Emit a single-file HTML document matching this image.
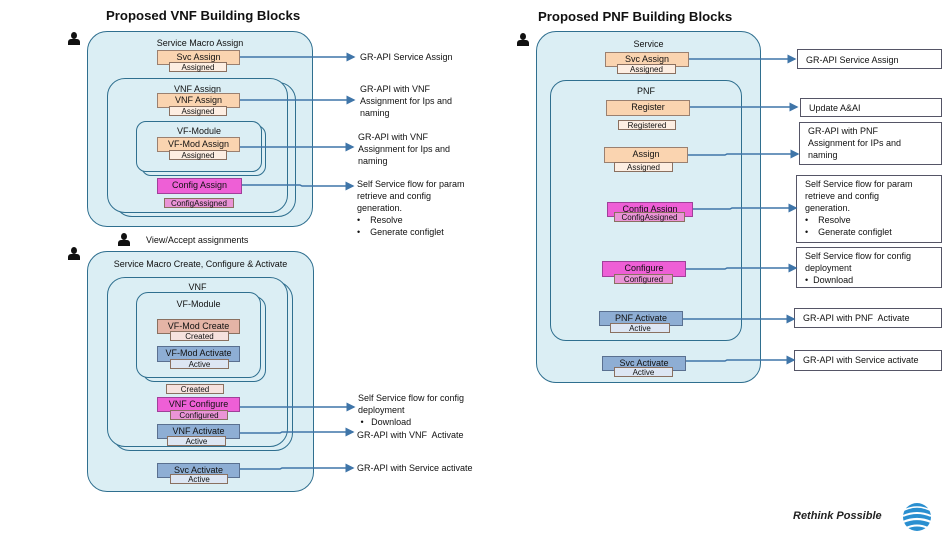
<!DOCTYPE html>
<html><head><meta charset="utf-8"><style>
*{margin:0;padding:0;box-sizing:border-box}
body{width:950px;height:540px;background:#fff;position:relative;overflow:hidden;font-family:"Liberation Sans",sans-serif;color:#111}
.a{position:absolute}
.r{position:absolute;border:1px solid #2f6f8f;background:#dbeef4}
.lb{position:absolute;font-size:9px;text-align:center;white-space:nowrap}
.b{position:absolute;font-size:9px;text-align:center;white-space:nowrap;border:1px solid #8a7060;line-height:13px}
.pe{background:#fad4b0;border-color:#9a8070}
.pes{background:#fdeee2}
.mg{background:#ee5fd6;border-color:#a0409a}
.mgs{background:#ea94d6}
.bl{background:#8eaed4;border-color:#5a7090}
.bls{background:#dde6f3}
.sal{background:#e4b4a6}
.sals{background:#f6e2de}
.s{line-height:9px;font-size:8px}
.t{position:absolute;font-size:9px;line-height:12px;white-space:nowrap}
.bx{position:absolute;border:1px solid #556;background:#fff;font-size:9px;line-height:12px;padding:2px 8px;white-space:nowrap}
.h{position:absolute;font-weight:bold;font-size:13.2px;font-family:"Liberation Sans",sans-serif}
.p{position:absolute;width:12px;height:14px}
.p:before{content:"";position:absolute;left:3px;top:0;width:6px;height:7px;border-radius:50%;background:#111}
.p:after{content:"";position:absolute;left:0;top:7px;width:12px;height:6px;background:#111;border-radius:3px 3px 0 0}
</style></head><body>
<div class="h" style="left:106px;top:8px">Proposed VNF Building Blocks</div>
<div class="h" style="left:538px;top:9px">Proposed PNF Building Blocks</div>

<div class="p" style="left:68px;top:32px"></div>
<div class="p" style="left:118px;top:233px"></div>
<div class="t" style="left:146px;top:234px">View/Accept assignments</div>
<div class="p" style="left:68px;top:247px"></div>
<div class="p" style="left:517px;top:33px"></div>

<!-- Left top -->
<div class="r" style="left:87px;top:31px;width:226px;height:196px;border-radius:20px"></div>
<div class="lb" style="left:87px;top:38px;width:226px">Service Macro Assign</div>
<div class="r" style="left:114px;top:82px;width:182px;height:135px;border-radius:18px"></div>
<div class="r" style="left:107px;top:78px;width:181px;height:135px;border-radius:18px"></div>
<div class="lb" style="left:107px;top:84px;width:181px">VNF Assign</div>
<div class="r" style="left:141px;top:125px;width:125px;height:51px;border-radius:10px"></div>
<div class="r" style="left:136px;top:121px;width:126px;height:51px;border-radius:10px"></div>
<div class="lb" style="left:136px;top:126px;width:126px">VF-Module</div>

<div class="b pe" style="left:157px;top:50px;width:83px;height:15px">Svc Assign</div>
<div class="b pes s" style="left:169px;top:62px;width:58px;height:10px">Assigned</div>
<div class="b pe" style="left:157px;top:93px;width:83px;height:15px">VNF Assign</div>
<div class="b pes s" style="left:169px;top:106px;width:58px;height:10px">Assigned</div>
<div class="b pe" style="left:157px;top:137px;width:83px;height:15px">VF-Mod Assign</div>
<div class="b pes s" style="left:169px;top:150px;width:58px;height:10px">Assigned</div>
<div class="b mg" style="left:157px;top:178px;width:85px;height:16px">Config Assign</div>
<div class="b mgs s" style="left:164px;top:198px;width:70px;height:10px">ConfigAssigned</div>

<!-- Left bottom -->
<div class="r" style="left:87px;top:251px;width:227px;height:241px;border-radius:20px"></div>
<div class="lb" style="left:87px;top:259px;width:227px">Service Macro Create, Configure &amp; Activate</div>
<div class="r" style="left:112px;top:281px;width:181px;height:170px;border-radius:18px"></div>
<div class="r" style="left:107px;top:277px;width:181px;height:170px;border-radius:18px"></div>
<div class="lb" style="left:107px;top:282px;width:181px">VNF</div>
<div class="r" style="left:142px;top:296px;width:124px;height:86px;border-radius:12px"></div>
<div class="r" style="left:136px;top:292px;width:125px;height:86px;border-radius:12px"></div>
<div class="lb" style="left:136px;top:299px;width:125px">VF-Module</div>

<div class="b sal" style="left:157px;top:319px;width:83px;height:15px">VF-Mod Create</div>
<div class="b sals s" style="left:170px;top:331px;width:59px;height:10px">Created</div>
<div class="b bl" style="left:157px;top:346px;width:83px;height:16px">VF-Mod Activate</div>
<div class="b bls s" style="left:170px;top:359px;width:59px;height:10px">Active</div>
<div class="b sals s" style="left:166px;top:384px;width:58px;height:10px">Created</div>
<div class="b mg" style="left:157px;top:397px;width:83px;height:15px">VNF Configure</div>
<div class="b mgs s" style="left:170px;top:410px;width:58px;height:10px">Configured</div>
<div class="b bl" style="left:157px;top:424px;width:83px;height:15px">VNF Activate</div>
<div class="b bls s" style="left:167px;top:436px;width:59px;height:10px">Active</div>
<div class="b bl" style="left:157px;top:463px;width:83px;height:15px">Svc Activate</div>
<div class="b bls s" style="left:170px;top:474px;width:58px;height:10px">Active</div>

<!-- Left texts -->
<div class="t" style="left:360px;top:51px">GR-API Service Assign</div>
<div class="t" style="left:360px;top:83px">GR-API with VNF<br>Assignment for Ips and<br>naming</div>
<div class="t" style="left:358px;top:131px">GR-API with VNF<br>Assignment for Ips and<br>naming</div>
<div class="t" style="left:357px;top:178px">Self Service flow for param<br>retrieve and config<br>generation.<br>•&nbsp;&nbsp;&nbsp; Resolve<br>•&nbsp;&nbsp;&nbsp; Generate configlet</div>
<div class="t" style="left:358px;top:392px">Self Service flow for config<br>deployment<br>&nbsp;•&nbsp;&nbsp; Download</div>
<div class="t" style="left:357px;top:429px">GR-API with VNF&nbsp; Activate</div>
<div class="t" style="left:357px;top:462px">GR-API with Service activate</div>

<!-- Right -->
<div class="r" style="left:536px;top:31px;width:225px;height:352px;border-radius:20px"></div>
<div class="lb" style="left:536px;top:39px;width:225px">Service</div>
<div class="r" style="left:550px;top:80px;width:192px;height:261px;border-radius:16px"></div>
<div class="lb" style="left:550px;top:86px;width:192px">PNF</div>

<div class="b pe" style="left:605px;top:52px;width:84px;height:15px">Svc Assign</div>
<div class="b pes s" style="left:617px;top:64px;width:59px;height:10px">Assigned</div>
<div class="b pe" style="left:606px;top:100px;width:84px;height:16px">Register</div>
<div class="b pes s" style="left:618px;top:120px;width:58px;height:10px">Registered</div>
<div class="b pe" style="left:604px;top:147px;width:84px;height:16px">Assign</div>
<div class="b pes s" style="left:614px;top:162px;width:59px;height:10px">Assigned</div>
<div class="b mg" style="left:607px;top:202px;width:86px;height:15px">Config Assign</div>
<div class="b mgs s" style="left:614px;top:212px;width:71px;height:10px">ConfigAssigned</div>
<div class="b mg" style="left:602px;top:261px;width:84px;height:16px">Configure</div>
<div class="b mgs s" style="left:614px;top:274px;width:59px;height:10px">Configured</div>
<div class="b bl" style="left:599px;top:311px;width:84px;height:15px">PNF Activate</div>
<div class="b bls s" style="left:610px;top:323px;width:60px;height:10px">Active</div>
<div class="b bl" style="left:602px;top:356px;width:84px;height:15px">Svc Activate</div>
<div class="b bls s" style="left:614px;top:367px;width:59px;height:10px">Active</div>

<div class="bx" style="left:797px;top:49px;width:145px;height:20px;padding-top:4px">GR-API Service Assign</div>
<div class="bx" style="left:800px;top:98px;width:142px;height:19px;padding-top:3px">Update A&amp;AI</div>
<div class="bx" style="left:799px;top:122px;width:143px;height:43px">GR-API with PNF<br>Assignment for IPs and<br>naming</div>
<div class="bx" style="left:796px;top:175px;width:146px;height:68px;padding-left:8px">Self Service flow for param<br>retrieve and config<br>generation.<br>•&nbsp;&nbsp;&nbsp; Resolve<br>•&nbsp;&nbsp;&nbsp; Generate configlet</div>
<div class="bx" style="left:796px;top:247px;width:146px;height:41px">Self Service flow for config<br>deployment<br>•&nbsp; Download</div>
<div class="bx" style="left:794px;top:308px;width:148px;height:20px;padding-top:3px">GR-API with PNF&nbsp; Activate</div>
<div class="bx" style="left:794px;top:350px;width:148px;height:21px;padding-top:3px">GR-API with Service activate</div>

<svg class="a" style="left:0;top:0" width="950" height="540">
<defs><marker id="ar" markerWidth="6" markerHeight="6" refX="5" refY="3" orient="auto"><path d="M0,0 L6,3 L0,6 z" fill="#3f75a8"/></marker></defs>
<g stroke="#3f75a8" stroke-width="1.5" fill="none" marker-end="url(#ar)">
<path d="M240,57 H354"/>
<path d="M240,100 H354"/>
<path d="M240,147 H353"/>
<path d="M242,185 H300 L302,186 H353"/>
<path d="M240,407 H354"/>
<path d="M240,433 H280 L282,432 H353"/>
<path d="M240,469 H280 L282,468 H353"/>
<path d="M689,59 H795"/>
<path d="M690,107 H797"/>
<path d="M688,155 H725 L727,154 H798"/>
<path d="M693,209 H730 L732,208 H796"/>
<path d="M686,269 H725 L727,268 H796"/>
<path d="M683,319 H794"/>
<path d="M686,361 H725 L727,360 H794"/>
</g>
<g>
<circle cx="917" cy="517" r="14" fill="#2a8fd0"/>
<path d="M904,510 Q917,504 930,510" stroke="#fff" stroke-width="1.6" fill="none"/>
<path d="M903,516 Q917,510 931,516" stroke="#fff" stroke-width="2" fill="none"/>
<path d="M903,522 Q917,516 931,522" stroke="#fff" stroke-width="2.2" fill="none"/>
<path d="M906,528 Q917,523 928,528" stroke="#fff" stroke-width="2" fill="none"/>
</g>
</svg>
<div class="a" style="left:793px;top:510px;font-size:11px;font-weight:bold;font-style:italic;color:#222">Rethink Possible</div>
</body></html>
